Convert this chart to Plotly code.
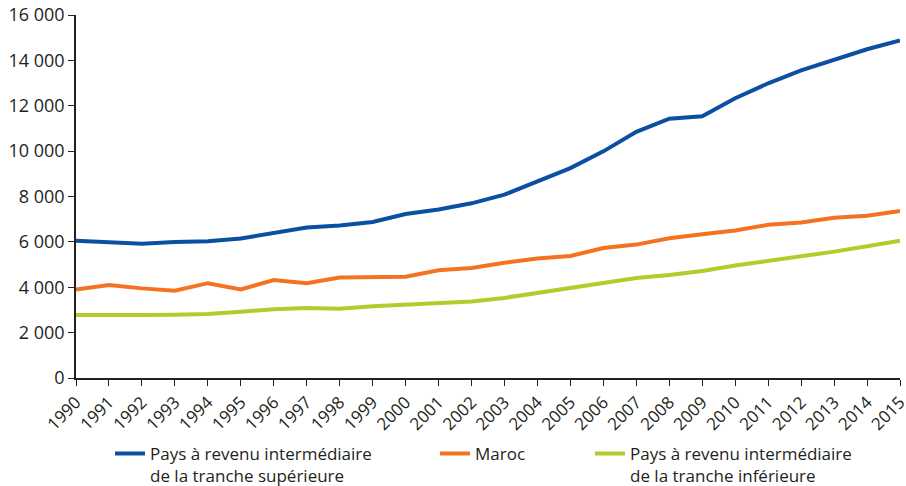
import plotly.graph_objects as go

years = list(range(1990, 2016))

superieure = [6050, 6000, 5920, 5990, 6030, 6150, 6380, 6630, 6720, 6880,
              7230, 7430, 7700, 8080, 8670, 9250, 9990, 10850, 11430, 11540,
              12330, 12990, 13560, 14040, 14490, 14880]
maroc = [3900, 4100, 3950, 3850, 4180, 3900, 4320, 4180, 4430, 4430,
         4460, 4750, 4850, 5080, 5270, 5380, 5730, 5880, 6160, 6340,
         6500, 6750, 6850, 7060, 7150, 7360]
inferieure = [2780, 2760, 2780, 2790, 2820, 2920, 3030, 3080, 3050, 3160,
              3230, 3300, 3370, 3530, 3750, 3950, 4180, 4410, 4540, 4720,
              4960, 5160, 5350, 5570, 5810, 6050]

names = ["Pays à revenu intermédiaire<br>de la tranche supérieure",
         "Maroc",
         "Pays à revenu intermédiaire<br>de la tranche inférieure"]
colors = ["#0b4fa3", "#f47321", "#b6cb2b"]
legends = ["legend", "legend2", "legend3"]

fig = go.Figure()
for serie, name, color, leg in zip([superieure, maroc, inferieure], names, colors, legends):
    fig.add_trace(go.Scatter(
        x=years, y=serie, name=name, mode="lines",
        line=dict(color=color, width=4),
        legend=leg
    ))

legend_style = dict(
    orientation="h", xref="container", yref="container",
    xanchor="left", yanchor="top", valign="top",
    font=dict(size=17, color="#231f20"),
    bgcolor="rgba(0,0,0,0)"
)

fig.update_layout(
    width=906,
    height=486,
    margin=dict(l=76, r=6, t=15, b=108, autoexpand=False),
    separators=", ",
    showlegend=True,
    font=dict(family="Open Sans", color="#231f20"),
    plot_bgcolor="white",
    paper_bgcolor="white",
    xaxis=dict(
        range=[1990, 2015],
        tickvals=years,
        tickangle=-45,
        tickfont=dict(size=17),
        ticklabeloverflow="allow",
        automargin=False,
        ticks="outside", ticklen=6, tickcolor="#231f20",
        showline=True, linecolor="#231f20", linewidth=1.5,
        showgrid=False, zeroline=False
    ),
    yaxis=dict(
        range=[0, 16000],
        dtick=2000,
        tickformat=",d",
        tickfont=dict(size=18),
        automargin=False,
        ticks="outside", ticklen=6, tickcolor="#231f20",
        showline=True, linecolor="#231f20", linewidth=1.5,
        showgrid=False, zeroline=False
    ),
    legend=dict(x=110 / 906, y=0.103, **legend_style),
    legend2=dict(x=435 / 906, y=0.103, **legend_style),
    legend3=dict(x=590 / 906, y=0.103, **legend_style),
)

# page body has an 8px default margin, drop it so the figure sits at 0,0
fig.write_html("out.html", config={"displayModeBar": False},
               post_script="document.body.style.margin='0';")
